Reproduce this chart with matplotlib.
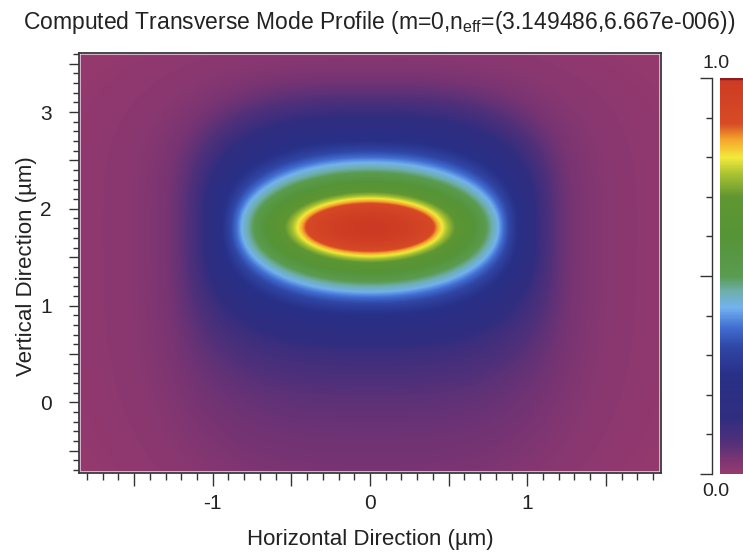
import numpy as np
import matplotlib
matplotlib.use("Agg")
import matplotlib.pyplot as plt
from matplotlib.colors import LinearSegmentedColormap
from matplotlib.ticker import MultipleLocator, FuncFormatter
from matplotlib.patches import Rectangle

plt.rcParams["font.family"] = ["Liberation Sans", "DejaVu Sans"]
plt.rcParams["mathtext.fontset"] = "custom"
plt.rcParams["mathtext.rm"] = "Liberation Sans"
plt.rcParams["mathtext.it"] = "Liberation Sans:italic"
plt.rcParams["mathtext.bf"] = "Liberation Sans:bold"

# mode centre (um)
x0, y0 = 0.0, 1.81
# iso-intensity contours of the mode: level, half width, half height above / below
# the centre, and squareness of the contour (2 = ellipse)
levels  = [0.90, 0.80, 0.60, 0.43, 0.30, 0.20, 0.12, 0.07, 0.04, 0.02, 0.00]
semi_x  = [0.40, 0.46, 0.66, 0.81, 0.90, 0.99, 1.08, 1.18, 1.30, 1.50, 2.40]
semi_up = [0.24, 0.30, 0.47, 0.66, 0.82, 1.00, 1.20, 1.38, 1.56, 1.76, 2.40]
semi_dn = [0.24, 0.30, 0.47, 0.66, 0.82, 1.02, 1.30, 1.75, 2.50, 3.00, 3.60]
shape_n = [2.0, 2.0, 2.0, 2.1, 2.3, 2.6, 2.8, 3.0, 3.0, 3.0, 3.0]

xlim = (-1.85, 1.85)
ylim = (-0.73, 3.61)

title = r"Computed Transverse Mode Profile (m=0,n$_{\mathrm{eff}}$=(3.149486,6.667e-006))"
xlabel = "Horizontal Direction (\u00b5m)"
ylabel = "Vertical Direction (\u00b5m)"

# colour scale: magenta -> dark blue -> light blue -> green -> yellow -> red
cmap_nodes = [
    (0.00, (150, 58, 110)),
    (0.04, (120, 52, 115)),
    (0.08, (80, 48, 122)),
    (0.14, (48, 45, 128)),
    (0.25, (40, 48, 135)),
    (0.32, (48, 70, 165)),
    (0.37, (65, 110, 210)),
    (0.42, (115, 178, 238)),
    (0.46, (110, 175, 175)),
    (0.50, (90, 155, 80)),
    (0.60, (85, 148, 55)),
    (0.70, (95, 150, 50)),
    (0.755, (165, 192, 50)),
    (0.80, (242, 234, 58)),
    (0.845, (245, 165, 45)),
    (0.885, (215, 75, 38)),
    (1.00, (205, 58, 35)),
]
cmap = LinearSegmentedColormap.from_list(
    "mode", [(p, tuple(c / 255 for c in rgb)) for p, rgb in cmap_nodes], N=512)


def mode_field(nx=600, ny=440):
    # fill the plot area between the nested contours
    xs = np.linspace(xlim[0], xlim[1], nx)
    ys = np.linspace(ylim[0], ylim[1], ny)
    X, Y = np.meshgrid(xs - x0, ys - y0)
    lv = np.array(levels)
    R = []
    for a, bu, bd, n in zip(semi_x, semi_up, semi_dn, shape_n):
        b = np.where(Y >= 0, bu, bd)
        R.append((np.abs(X / a) ** n + np.abs(Y / b) ** n) ** (1.0 / n))
    R = np.array(R)
    count = (R > 1).sum(axis=0)
    k = np.clip(count - 1, 0, len(lv) - 2)
    r_out = np.take_along_axis(R, k[None], 0)[0]
    r_in = np.take_along_axis(R, (k + 1)[None], 0)[0]
    t = np.clip((r_out - 1) / (r_out - r_in), 0, 1)
    f = lv[k] + t * (lv[k + 1] - lv[k])
    f = np.where(count == 0, 1.0 - (1.0 - lv[0]) * R[0] ** 2, f)
    f = np.where(count == len(lv), 0.0, f)
    return f


field = mode_field()

fig = plt.figure(figsize=(7.43, 5.52), dpi=100)
W, H = 743, 552
ax = fig.add_axes([79 / W, 1 - 473 / H, 582 / W, 420 / H])

im = ax.imshow(field, origin="lower", extent=[*xlim, *ylim],
               cmap=cmap, vmin=0, vmax=1, interpolation="bilinear", aspect="auto")
ax.set_xlim(*xlim)
ax.set_ylim(*ylim)

int_only = FuncFormatter(lambda v, p: f"{int(round(v))}" if abs(v - round(v)) < 1e-6 else "")
for axis in (ax.xaxis, ax.yaxis):
    axis.set_major_locator(MultipleLocator(0.5))
    axis.set_minor_locator(MultipleLocator(0.1))
    axis.set_major_formatter(int_only)

ax.tick_params(which="both", direction="out", color="#333333", width=1.0,
               labelsize=15, labelcolor="#222222", top=False, right=False)
ax.tick_params(axis="x", which="major", length=9, pad=6)
ax.tick_params(axis="x", which="minor", length=5)
ax.tick_params(axis="y", which="major", length=7.5, pad=12)
ax.tick_params(axis="y", which="minor", length=4)

for s in ax.spines.values():
    s.set_color("#3a3a3a")
    s.set_linewidth(1.3)
ax.add_patch(Rectangle((0, 0), 1, 1, transform=ax.transAxes, fill=False,
                       ec="#e4cde4", lw=2.6, zorder=2))

# colour bar with the tick line set off to its left
cax = fig.add_axes([720 / W, 1 - 474 / H, 23 / W, 396 / H])
cb = fig.colorbar(im, cax=cax)
cb.outline.set_visible(False)
cb.set_ticks([0, 0.5, 1.0])
cax.axhline(1.0, color="#8c1e22", lw=2.5)
cax.yaxis.set_minor_locator(MultipleLocator(0.1))
cax.yaxis.set_ticks_position("left")
cax.tick_params(which="both", direction="out", color="#333333", width=1.0,
                labelleft=False, labelright=False)
cax.tick_params(which="major", length=8.5)
cax.tick_params(which="minor", length=4.5)
cax.spines["left"].set_visible(True)
cax.spines["left"].set_position(("outward", 6))
cax.spines["left"].set_color("#333333")
cax.spines["left"].set_linewidth(1.0)

fig.text(716 / W, 1 - 63 / H, "1.0", ha="center", va="center", fontsize=14, color="#222222")
fig.text(716 / W, 1 - 491 / H, "0.0", ha="center", va="center", fontsize=14, color="#222222")

fig.text(379 / W, 1 - 29.5 / H, title, ha="center", va="baseline", fontsize=16.5, color="#222222")
fig.text(370 / W, 1 - 545 / H, xlabel, ha="center", va="baseline", fontsize=16, color="#222222")
fig.text(27 / W, 1 - 266 / H, ylabel, ha="center", va="center", rotation=90,
         fontsize=16, color="#222222")

fig.savefig("out.png", dpi=100)
